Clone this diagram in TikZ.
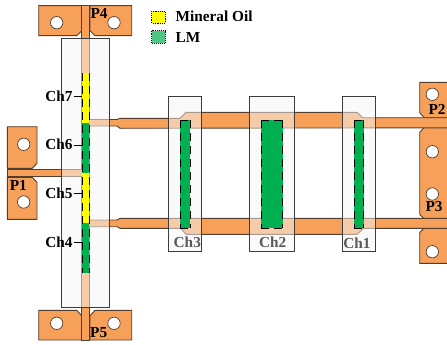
\documentclass[tikz,border=0pt]{standalone}
\usepackage{fontspec}
\setmainfont{Liberation Serif}
\usepackage{tikz}
\usetikzlibrary{arrows.meta, positioning, calc}
\definecolor{padorange}  {RGB}{246, 160, 90}
\definecolor{padedge}    {RGB}{85,  62,  45}
\definecolor{lmgreen}    {RGB}{0,   176, 80}
\definecolor{oilyellow}  {RGB}{255, 255, 0}
\definecolor{boxedge}    {RGB}{60,  60,  60}
\tikzset{
	copper/.style={draw=padedge,fill=padorange,line width=0.9pt,line join=miter},
	hole/.style={draw=padedge,fill=white,line width=0.7pt},
	window/.style={draw=boxedge,fill=black!3,fill opacity=0.5,line width=0.9pt},
	lmfill/.style={fill=lmgreen},
	oilfill/.style={fill=oilyellow},
	dashedge/.style={draw=black,line width=0.9pt,dash pattern=on 8pt off 5pt},
	chlabel/.style={font=\fontsize{15.3}{16}\selectfont\bfseries,inner sep=0pt},
	winlabel/.style={chlabel,text=black!65},
	keybox/.style={draw=black,densely dotted,line width=0.9pt}
}
\begin{document}
\begin{tikzpicture}[x=1pt,y=-1pt]
	\useasboundingbox (0,0) rectangle (447,345);
	\fill[white] (0,0) rectangle (447,345);
	% pads
	\draw[copper] (38.7,5.7)--(81.7,5.7)--(81.7,30.7)--(76.7,35.7)--(38.7,35.7)--cycle;
	\draw[copper] (90,5.7)--(131.7,5.7)--(131.7,35.7)--(95,35.7)--(90,30.7)--cycle;
	\draw[copper] (38.7,310.3)--(76.7,310.3)--(81.7,315.7)--(81.7,340)--(38.7,340)--cycle;
	\draw[copper] (95,310.3)--(131.7,310.3)--(131.7,340)--(90,340)--(90,315.7)--cycle;
	\draw[copper] (7.3,126.7)--(37,126.7)--(37,163.3)--(32.3,168.3)--(7.3,168.3)--cycle;
	\draw[copper] (7.3,177.3)--(32.3,177.3)--(37,182.3)--(37,219.3)--(7.3,219.3)--cycle;
	\draw[copper] (449,82.3)--(419.7,82.3)--(419.7,112.7)--(424.3,117.7)--(449,117.7);
	\draw[copper] (449,127.3)--(424.3,127.3)--(419.7,132.3)--(419.7,214.3)--(424.3,219.3)--(449,219.3);
	\draw[copper] (449,227.7)--(424.3,227.7)--(419.7,232.7)--(419.7,263.3)--(449,263.3);
	\foreach \x/\y in {56.7/22.7, 114/22.7, 56.7/323.3, 114/323.3, 23.7/144.3, 23.7/202,
		432.3/94.3, 432.3/151.7, 432.3/194, 432.3/251.7}
		\draw[hole] (\x,\y) circle (6.2);
	% traces
	\draw[copper] (81.7,5.7)--(89,5.7)--(89,340)--(81.7,340)--cycle;
	\draw[copper] (7.3,169.5)--(82,169.5)--(82,176)--(7.3,176)--cycle;
	\draw[copper] (89,119.5)--(117,119.5)--(120,118.3)--(180,118.3)--(186,112.3)--(357,112.3)
		--(362.7,117.7)--(449,117.7)--(449,127.8)--(120,128.3)--(117,126)--(89,126)--cycle;
	\draw[copper] (89,220)--(117,220)--(120,218.3)--(449,218.3)--(449,228.3)--(363.7,228.3)
		--(357,234.3)--(186,234.3)--(180.7,228.3)--(120,228.3)--(117,226.7)--(89,226.7)--cycle;
	% windows
	\draw[window] (61.3,38.7) rectangle (109.3,307.3);
	\foreach \xa/\xb in {168/201.3, 249.3/294.3, 342/375.3}
		\draw[window] (\xa,96.7) rectangle (\xb,251);
	% channels
	\fill[oilfill] (82,73) rectangle (89,123);
	\fill[lmfill] (82,123) rectangle (89,173);
	\fill[oilfill] (82,173) rectangle (89,223);
	\fill[lmfill] (82,223) rectangle (89,273);
	\draw[dashedge] (82,73)--(82,273);
	\draw[dashedge] (89,73)--(89,273);
	\foreach \xa/\xb in {180/190, 261/282.7, 354/363.7}{
		\fill[lmfill] (\xa,120) rectangle (\xb,228);
		\draw[dashedge] (\xa,120)--(\xa,228);
		\draw[dashedge] (\xb,120)--(\xb,228);
		\draw[dashedge] (\xa,120)--(\xb,120);
		\draw[dashedge] (\xa,228)--(\xb,228);
	}
	% labels
	\node[chlabel] (p4) at (99,13) {P4};
	\node[chlabel] (p5) at (98.7,333) {P5};
	\node[chlabel] (p1) at (18.3,185) {P1};
	\node[chlabel] (p2) at (437,109.3) {P2};
	\node[chlabel] (p3) at (434,206.7) {P3};
	\foreach \n/\y in {7/96, 6/144.5, 5/193, 4/242}{
		\node[chlabel,anchor=east] (ch\n) at (72.7,\y) {Ch\n};
		\coordinate (ch\n tip) at (81.5,\y+0.5);
		\draw[line width=0.5pt] ($(ch\n.east)+(1,0.5)$) -- (ch\n tip);
	}
	\node[winlabel] (ch3) at (187.3,242.3) {Ch3};
	\node[winlabel] (ch2) at (272.7,242.3) {Ch2};
	\node[winlabel] (ch1) at (357,243.3) {Ch1};
	% key
	\draw[keybox,fill=oilyellow] (151.7,11) rectangle (165,23.3);
	\draw[keybox,fill=lmgreen!70] (151.7,30.7) rectangle (165,43.3);
	\node[chlabel,anchor=west] (oil) at (175.5,16.5) {Mineral Oil};
	\node[chlabel,anchor=west] (lm) at (175.5,37.5) {LM};
\end{tikzpicture}
\end{document}
